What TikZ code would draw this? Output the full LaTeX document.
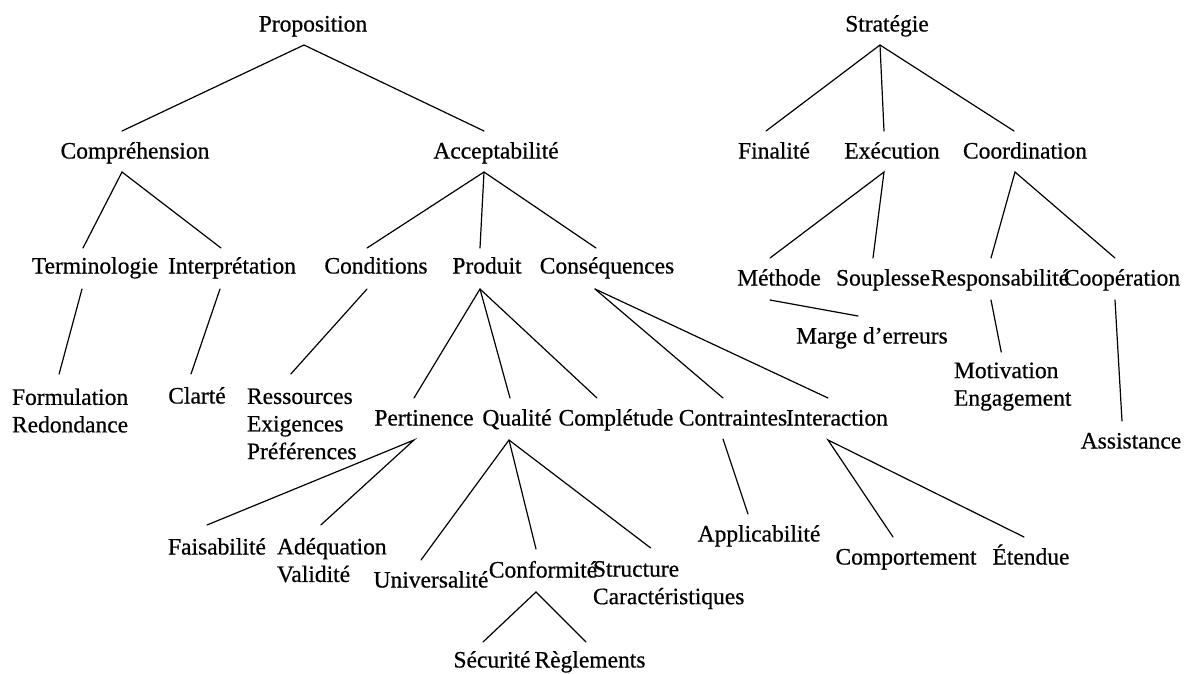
\documentclass[tikz,border=0pt]{standalone}
\usepackage{fontspec}
\setmainfont{Liberation Serif}[FakeBold=0.6]
\begin{document}
\begin{tikzpicture}[x=1pt,y=-1pt,
  every node/.style={inner sep=0pt,outer sep=0pt,font=\fontsize{23.5}{27.6}\selectfont},
  term/.style={text height=16pt,text depth=5pt},
  stack/.style={align=left,anchor=north west},
  edge/.style={line width=1.2pt,line cap=round}]
\fill[white] (0,0) rectangle (1188,673);
\useasboundingbox (0,0) rectangle (1188,673);

% ---- first tree ----
\node[term] (prop)   at (313,26)  {Proposition};
\node[term] (comp)   at (135,153) {Compréhension};
\node[term] (acc)    at (496,153) {Acceptabilité};
\node[term] (terml)  at (95,268)  {Terminologie};
\node[term] (interp) at (232,268) {Interprétation};
\node[term] (cond)   at (376,268) {Conditions};
\node[term] (prod)   at (487,268) {Produit};
\node[term] (cons)   at (607,268) {Conséquences};
\node[stack] (form)  at (12,388.5) {Formulation\\Redondance};
\node[term] (clar)   at (197,398) {Clarté};
\node[stack] (res)   at (247,388.5) {Ressources\\Exigences\\Préférences};
\node[term] (pert)   at (424,420) {Pertinence};
\node[term] (qual)   at (517,420) {Qualité};
\node[term] (compl)  at (616,420) {Complétude};
\node[term] (contr)  at (733,420) {Contraintes};
\node[term] (inter)  at (837,420) {Interaction};
\node[term] (fais)   at (217,549) {Faisabilité};
\node[stack] (adeq)  at (277,538) {Adéquation\\Validité};
\node[term] (univ)   at (431,582) {Universalité};
\node[term] (conf)   at (543,572) {Conformité};
\node[stack] (struct) at (593,561) {Structure\\Caractéristiques};
\node[term] (secu)   at (492,662) {Sécurité};
\node[term] (regl)   at (590,662) {Règlements};
\node[term] (appl)   at (759,536) {Applicabilité};
\node[term] (compt)  at (906,559) {Comportement};
\node[term] (eten)   at (1031,559) {Étendue};

% ---- second tree ----
\node[term] (strat)  at (887,26)  {Stratégie};
\node[term] (fin)    at (774,153) {Finalité};
\node[term] (exe)    at (892,153) {Exécution};
\node[term] (coord)  at (1025,153) {Coordination};
\node[term] (meth)   at (779,280) {Méthode};
\node[term] (soup)   at (883,280) {Souplesse};
\node[term] (resp)   at (1000,280) {Responsabilité};
\node[term] (coop)   at (1122,280) {Coopération};
\node[term] (marge)  at (872,338) {Marge d’erreurs};
\node[stack] (motiv) at (954,362.5) {Motivation\\Engagement};
\node[term] (assist) at (1131,443) {Assistance};

% ---- connectors ----
\begin{scope}[edge]
\draw ([shift={(-13,-22)}]comp.center) -- ([shift={(-9,19)}]prop.center) -- ([shift={(-12,-22)}]acc.center);
\draw ([shift={(-12,-20)}]terml.center) -- ([shift={(-13,19)}]comp.center) -- ([shift={(-11,-20)}]interp.center);
\draw ([shift={(-12,19)}]acc.center) -- ([shift={(-9,-20)}]cond.center);
\draw ([shift={(-12,19)}]acc.center) -- ([shift={(-7,-20)}]prod.center);
\draw ([shift={(-12,19)}]acc.center) -- ([shift={(-11,-20)}]cons.center);
\draw ([shift={(-13,21)}]terml.center) -- ([shift={(-11,-14.5)}]form.north);
\draw ([shift={(-12,21)}]interp.center) -- ([shift={(-6,-24)}]clar.center);
\draw ([shift={(-9,21)}]cond.center) -- ([shift={(-11,-14.5)}]res.north);
\draw ([shift={(-7,21)}]prod.center) -- ([shift={(-10,-22)}]pert.center);
\draw ([shift={(-7,21)}]prod.center) -- ([shift={(-7,-22)}]qual.center);
\draw ([shift={(-7,21)}]prod.center) -- ([shift={(-19,-22)}]compl.center);
\draw ([shift={(-12,21)}]cons.center) -- ([shift={(-10,-22)}]contr.center);
\draw ([shift={(-12,21)}]cons.center) -- ([shift={(-9,-22)}]inter.center);
\draw ([shift={(-10,-24)}]fais.center) -- ([shift={(-10,20)}]pert.center) -- ([shift={(-11,-13)}]adeq.north);
\draw ([shift={(-8,20)}]qual.center) -- ([shift={(-10,-22)}]univ.center);
\draw ([shift={(-8,20)}]qual.center) -- ([shift={(-7,-23)}]conf.center);
\draw ([shift={(-8,20)}]qual.center) -- ([shift={(-18,-13)}]struct.north);
\draw ([shift={(-9,-20)}]secu.center) -- ([shift={(-7,20)}]conf.center) -- ([shift={(-4,-20)}]regl.center);
\draw ([shift={(-10,19)}]contr.center) -- ([shift={(-11,-22)}]appl.center);
\draw ([shift={(-13,-22)}]compt.center) -- ([shift={(-9,20)}]inter.center) -- ([shift={(-7,-22)}]eten.center);
\draw ([shift={(-8,-22)}]fin.center) -- ([shift={(-7,19)}]strat.center) -- ([shift={(-11,-22)}]coord.center);
\draw ([shift={(-7,19)}]strat.center) -- ([shift={(-8,-22)}]exe.center);
\draw ([shift={(-9,-22)}]meth.center) -- ([shift={(-8,19)}]exe.center) -- ([shift={(-10,-22)}]soup.center);
\draw ([shift={(-9,-22)}]resp.center) -- ([shift={(-10,19)}]coord.center) -- ([shift={(-7,-22)}]coop.center);
\draw ([shift={(-9,20)}]meth.center) -- ([shift={(-14,-22)}]marge.center);
\draw ([shift={(-9,20)}]resp.center) -- ([shift={(-11.5,-10.5)}]motiv.north);
\draw ([shift={(-7,20)}]coop.center) -- ([shift={(-9,-22)}]assist.center);
\end{scope}
\end{tikzpicture}
\end{document}
